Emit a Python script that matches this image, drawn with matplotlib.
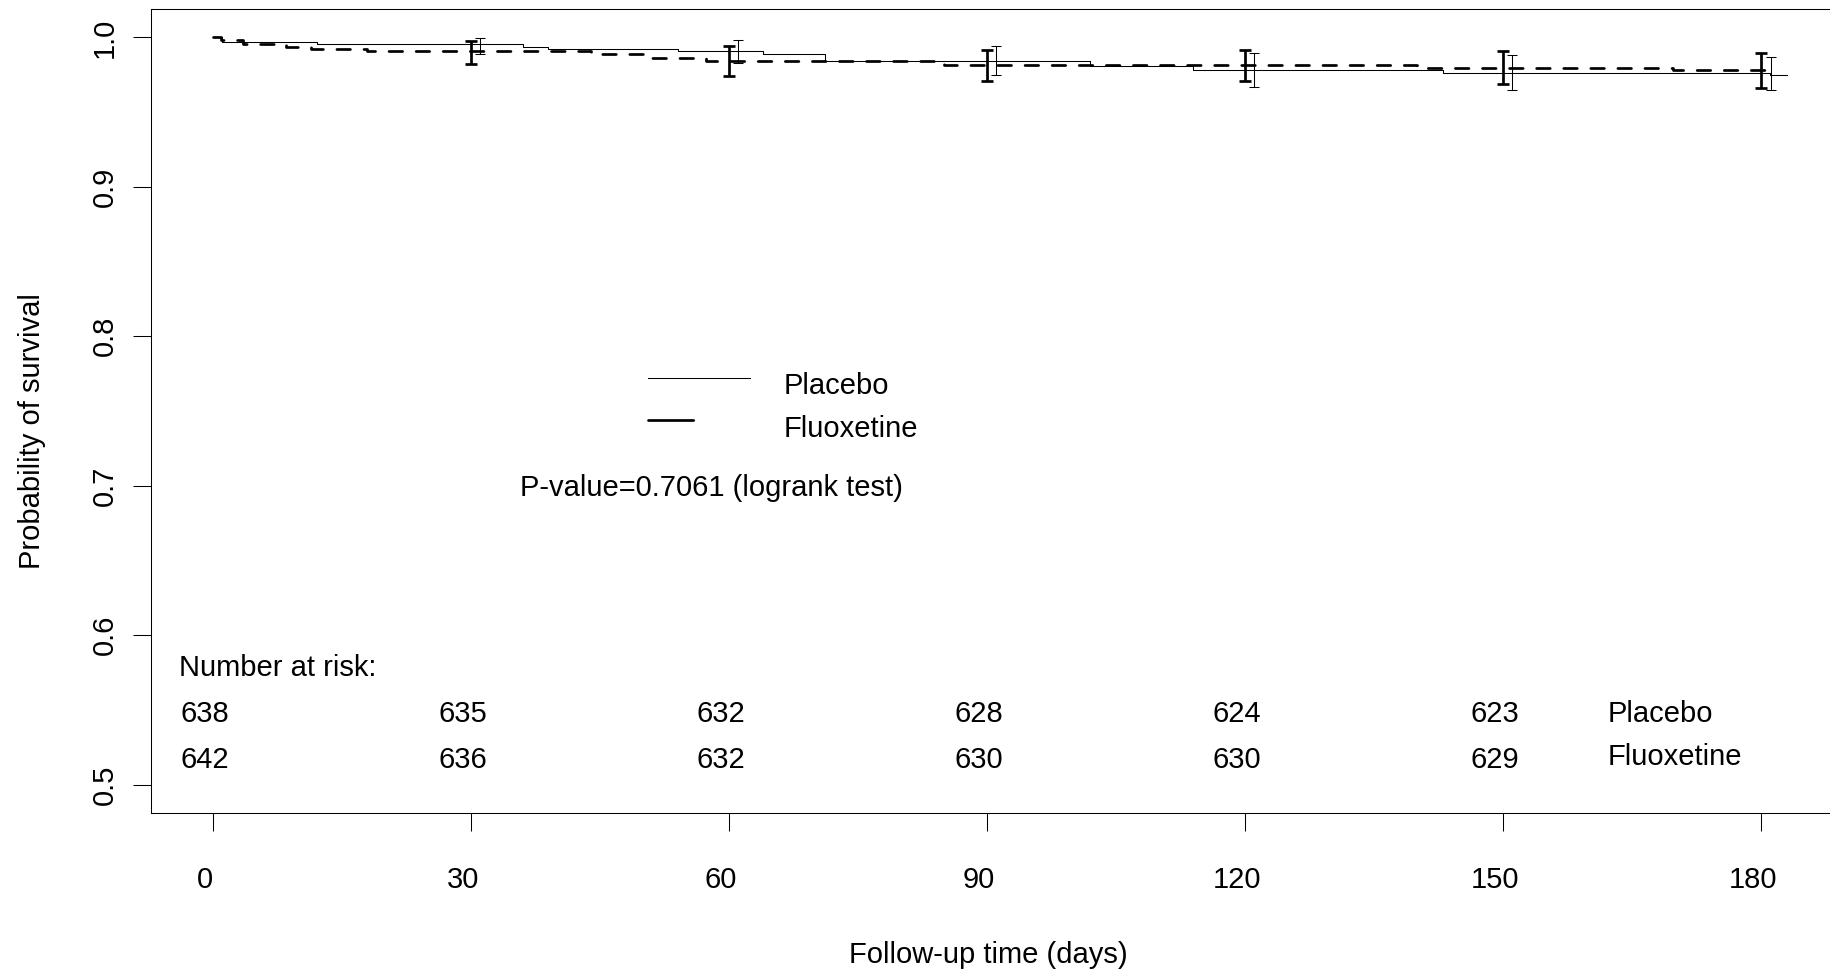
import numpy as np
import matplotlib
matplotlib.use('Agg')
import matplotlib.pyplot as plt
import matplotlib.transforms as mtransforms
from matplotlib.lines import Line2D
from matplotlib.ticker import FixedLocator, FormatStrFormatter

# Kaplan-Meier steps (days, survival)
placebo_time = [0, 1.1, 12.1, 36.1, 39.0, 54.1, 64.0, 71.2, 102.0, 114.0, 143.0, 181.0, 183.0]
placebo_surv = [1.0, 0.99687, 0.99530, 0.99373, 0.99216, 0.99060, 0.98903, 0.98433,
                0.98119, 0.97806, 0.97649, 0.97492, 0.97492]

fluox_time = [0, 1.0, 3.5, 8.5, 11.5, 18.0, 44.0, 50.5, 57.3, 85.0, 140.0, 169.8, 180.8]
fluox_surv = [1.0, 0.99844, 0.99533, 0.99377, 0.99221, 0.99065, 0.98910, 0.98598,
              0.98442, 0.98131, 0.97975, 0.97819, 0.97819]

# confidence bars at the table times
ci_time = [30, 60, 90, 120, 150, 180]
placebo_ci_mid = [0.99530, 0.99060, 0.98433, 0.97806, 0.97649, 0.97649]
placebo_ci_low = [0.9888, 0.9831, 0.9747, 0.9668, 0.9648, 0.9645]
placebo_ci_high = [0.9998, 0.9981, 0.9940, 0.9895, 0.9883, 0.9872]
fluox_ci_mid = [0.99065, 0.98442, 0.98131, 0.98131, 0.97975, 0.97819]
fluox_ci_low = [0.9825, 0.9740, 0.9709, 0.9709, 0.9689, 0.9660]
fluox_ci_high = [0.9978, 0.9940, 0.9918, 0.9918, 0.9907, 0.9894]

risk_time = [0, 30, 60, 90, 120, 150]
risk_placebo = [638, 635, 632, 628, 624, 623]
risk_fluox = [642, 636, 632, 630, 630, 629]

x_ticks = [0, 30, 60, 90, 120, 150, 180]
y_ticks = [0.5, 0.6, 0.7, 0.8, 0.9, 1.0]

FONT = 'Liberation Sans'
FS = 21
THICK = 1.95
THIN = 0.75

plt.rcParams['font.family'] = [FONT, 'DejaVu Sans']
plt.rcParams['font.size'] = FS

W, H = 1831, 972
fig = plt.figure(figsize=(W / 100, H / 100), dpi=100)
ax = fig.add_axes([150.6 / W, (H - 812.7) / H, 1700.0 / W, (812.7 - 9.3) / H])
ax.set_xlim(-7.2, 190.4)
ax.set_ylim(0.4812, 1.0188)

for s in ax.spines.values():
    s.set_linewidth(THIN)

# curves
ax.step(placebo_time, placebo_surv, where='post', color='black', lw=THIN)
ax.step(fluox_time, fluox_surv, where='post', color='black', lw=THICK,
        dashes=(5.0, 5.0), dash_capstyle='round')

# confidence bars (fluoxetine at t, placebo shifted a little right)
pm = np.array(placebo_ci_mid)
fm = np.array(fluox_ci_mid)
ax.errorbar(np.array(ci_time), fm,
            yerr=[fm - np.array(fluox_ci_low), np.array(fluox_ci_high) - fm],
            fmt='none', ecolor='black', elinewidth=THICK, capsize=4.5, capthick=THICK)
ax.errorbar(np.array(ci_time) + 1.1, pm,
            yerr=[pm - np.array(placebo_ci_low), np.array(placebo_ci_high) - pm],
            fmt='none', ecolor='black', elinewidth=THIN, capsize=3.3, capthick=THIN)

# axes ticks
ax.xaxis.set_major_locator(FixedLocator(x_ticks))
ax.yaxis.set_major_locator(FixedLocator(y_ticks))
ax.yaxis.set_major_formatter(FormatStrFormatter('%.1f'))
ax.tick_params(axis='both', direction='out', length=13, width=THIN, labelsize=FS)
ax.tick_params(axis='x', pad=25.5)
ax.tick_params(axis='y', pad=9.6, labelrotation=90)
for lab in ax.get_yticklabels():
    lab.set_va('center')

shift = mtransforms.ScaledTranslation(-8 / 100, 0, fig.dpi_scale_trans)
for lab in ax.get_xticklabels():
    lab.set_transform(lab.get_transform() + shift)

# number at risk table
ax.text(-3.9, 0.5783, 'Number at risk:', ha='left', va='center', fontsize=FS)
for t, n1, n2 in zip(risk_time, risk_placebo, risk_fluox):
    ax.text(t, 0.5471, str(n1), ha='center', va='center', fontsize=FS,
            transform=ax.transData + shift)
    ax.text(t, 0.5166, str(n2), ha='center', va='center', fontsize=FS,
            transform=ax.transData + shift)
ax.text(162.2, 0.5471, 'Placebo', ha='left', va='center', fontsize=FS)
ax.text(162.2, 0.5185, 'Fluoxetine', ha='left', va='center', fontsize=FS)

ax.text(35.7, 0.6986, 'P-value=0.7061 (logrank test)', ha='left', va='center', fontsize=FS)

# legend
handles = [
    Line2D([], [], color='black', lw=THIN),
    Line2D([], [], color='black', lw=THICK, dashes=(16.7, 40), dash_capstyle='round'),
]
leg = ax.legend(handles, ['Placebo', 'Fluoxetine'], loc='upper left',
                bbox_to_anchor=(648 / W, 1 - 366 / H), bbox_transform=fig.transFigure,
                frameon=False, borderpad=0, borderaxespad=0, handlelength=3.49,
                handletextpad=1.16, labelspacing=0.5, fontsize=FS)
# labels sit a little lower than the key lines in the original
down = mtransforms.ScaledTranslation(0, -6 / 100, fig.dpi_scale_trans)
for txt in leg.get_texts():
    txt.set_transform(txt.get_transform() + down)

fig.text(988 / W, 1 - 955 / H, 'Follow-up time (days)', ha='center', va='center', fontsize=FS)
fig.text(32 / W, 1 - 431 / H, 'Probability of survival', ha='center', va='center',
         rotation=90, fontsize=FS)

fig.savefig('out.png', dpi=100)
